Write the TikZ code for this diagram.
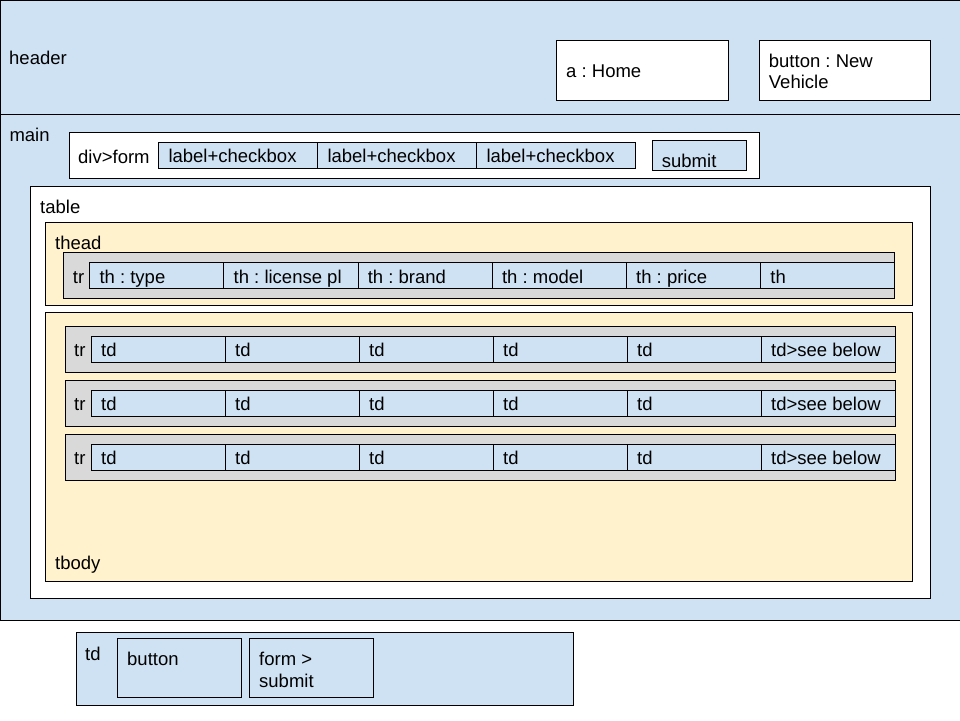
\documentclass[tikz,border=0pt]{standalone}
\usepackage{fontspec}
\setmainfont{Liberation Sans}
\frenchspacing
\definecolor{lblue}{HTML}{CFE2F3}
\definecolor{lyellow}{HTML}{FFF2CC}
\definecolor{lgray}{HTML}{D9D9D9}
\newcommand\mybox[6]{\node[rbox,#2,minimum width={(#5)-(#3)},minimum height={(#6)-(#4)}] (#1) at (#3,#4) {};}
\begin{document}
\begin{tikzpicture}[x=1pt,y=-1pt,
  rbox/.style={draw=black, line width=1pt, inner sep=0pt, outer sep=0pt, anchor=north west},
  txt/.style={anchor=west, inner sep=0pt, text height=13.3pt, text depth=0pt, font=\fontsize{18.5}{21.5}\selectfont\frenchspacing}]
\useasboundingbox (0,0) rectangle (960,720);
% header
\mybox{header}{fill=lblue}{0}{0}{960}{114}
\node[txt] (headerlbl) at (9,58) {header};
\mybox{home}{fill=white}{556.3}{40.3}{728.3}{100.3}
\node[txt] (homelbl) at (566,71) {a : Home};
\mybox{newv}{fill=white}{759}{40.3}{930.7}{100.3}
\node[txt] (newvlbla) at (768.7,60.7) {button : New};
\node[txt] (newvlblb) at (768.7,81.7) {Vehicle};
% main
\mybox{main}{fill=lblue}{0}{114}{960}{620}
\node[txt] (mainlbl) at (9.3,135) {main};
\mybox{divform}{fill=white}{69}{132.3}{759.7}{178.3}
\node[txt] (divformlbl) at (78,156.5) {div>form};
\foreach \i/\x in {1/158.3,2/317.3,3/476.3}{
  \mybox{lc\i}{fill=lblue}{\x}{142.3}{\x+159.2}{168.3}
  \node[txt] (lc\i lbl) at (\x+10,156) {label+checkbox};
}
\mybox{submit}{fill=lblue}{652.3}{140.3}{746.7}{170.7}
\node[txt] (submitlbl) at (661.7,161) {submit};
% table
\mybox{table}{fill=white}{30.3}{186.3}{930.3}{598.3}
\node[txt] (tablelbl) at (40,207) {table};
% thead
\mybox{thead}{fill=lyellow}{45.3}{222.3}{912.7}{305}
\node[txt] (theadlbl) at (55,242.5) {thead};
\mybox{htr}{fill=lgray}{63.3}{252.3}{894.7}{298.7}
\node[txt] (htrlbl) at (72.7,276.7) {tr};
\foreach \i/\t in {1/th : type,2/th : license pl,3/th : brand,4/th : model,5/th : price,6/th}{
  \pgfmathsetmacro\xa{89.7+(\i-1)*134.17}
  \mybox{th\i}{fill=lblue}{\xa}{262.3}{\xa+134.17}{288.3}
  \node[txt] (th\i lbl) at (\xa+9.6,276.7) {\t};
}
% tbody
\mybox{tbody}{fill=lyellow}{45.3}{312.3}{912.7}{581.7}
\node[txt] (tbodylbl) at (55,563) {tbody};
\foreach \r/\y in {1/326.3,2/380.3,3/434.3}{
  \mybox{tr\r}{fill=lgray}{65.3}{\y}{895.3}{\y+46}
  \node[txt] (tr\r lbl) at (74,\y+23.7) {tr};
  \foreach \c/\t in {1/td,2/td,3/td,4/td,5/td,6/td>see below}{
    \pgfmathsetmacro\xa{91.3+(\c-1)*134}
    \mybox{td\r\c}{fill=lblue}{\xa}{\y+10}{\xa+134}{\y+36}
    \node[txt] (td\r\c lbl) at (\xa+9.7,\y+23.7) {\t};
  }
}
% bottom td
\mybox{tdbox}{fill=lblue}{76.5}{632}{573}{705}
\node[txt] (tdboxlbl) at (85,654) {td};
\mybox{btn}{fill=lblue}{117.3}{638.3}{241.5}{697}
\node[txt] (btnlbl) at (127,659) {button};
\mybox{fsub}{fill=lblue}{249.5}{638.3}{373.5}{697}
\node[txt] (fsublbla) at (259,659) {form >};
\node[txt] (fsublblb) at (259,681) {submit};
\end{tikzpicture}
\end{document}
